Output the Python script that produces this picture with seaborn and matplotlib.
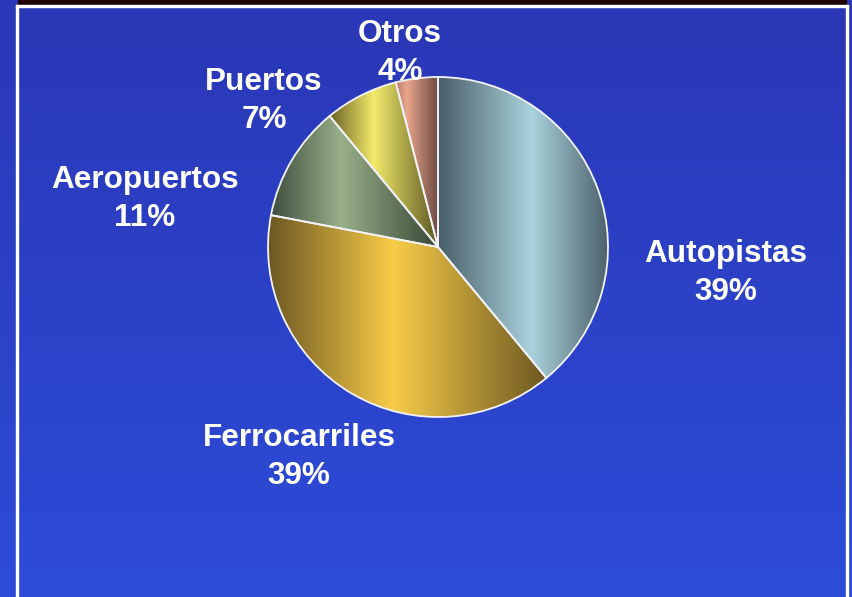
import numpy as np
import matplotlib
matplotlib.use("Agg")
import matplotlib.pyplot as plt
from matplotlib.colors import LinearSegmentedColormap
from matplotlib.patches import Rectangle
import seaborn as sns

# data
sectors = ["Autopistas", "Ferrocarriles", "Aeropuertos", "Puertos", "Otros"]
shares = [39, 39, 11, 7, 4]
pct_labels = ["39%", "39%", "11%", "7%", "4%"]

# shading per slice: left dark, highlight, right dark, highlight position
shades = {
    "Autopistas": ("#485e68", "#aad2de", "#4c626c", 0.55),
    "Ferrocarriles": ("#6c5822", "#f8cb48", "#6c5822", 0.45),
    "Aeropuertos": ("#3e4e3e", "#9ab08a", "#384836", 0.42),
    "Puertos": ("#6c6224", "#f2ea6a", "#5c5624", 0.40),
    "Otros": ("#b87a6a", "#eaa68e", "#6a4840", 0.25),
}

sns.set_theme(style="white")
plt.rcParams["font.family"] = ["Liberation Sans", "DejaVu Sans"]

W, H = 852, 597
fig = plt.figure(figsize=(W / 100, H / 100), dpi=100)
ax = fig.add_axes([0, 0, 1, 1])
ax.set_xlim(0, W)
ax.set_ylim(0, H)
ax.axis("off")

# background gradient (darker at top)
bg = LinearSegmentedColormap.from_list("bg", ["#2a37b6", "#2d4cd8"])
grad = np.linspace(0, 1, 256).reshape(-1, 1)
ax.imshow(grad, cmap=bg, extent=[0, W, 0, H], origin="upper", aspect="auto", zorder=0)

# frame: black bar on top, white lines
ax.add_patch(Rectangle((18, H - 5), 828, 5, color="#1e0404", zorder=1))
ax.add_patch(Rectangle((16, H - 7), 832, 2, color="white", zorder=1))
ax.add_patch(Rectangle((16, 0), 2, H - 5, color="white", zorder=1))
ax.add_patch(Rectangle((846, 0), 2, H - 5, color="white", zorder=1))

center = (438, H - 247)
radius = 170
wedges, _ = ax.pie(shares, startangle=90, counterclock=False,
                   center=center, radius=radius,
                   colors=[shades[s][1] for s in sectors],
                   wedgeprops=dict(edgecolor="#f2f2f6", linewidth=1.3))
ax.set_xlim(0, W)
ax.set_ylim(0, H)

# horizontal cylinder-like shading clipped to each wedge
for w, name in zip(wedges, sectors):
    left, light, right, pk = shades[name]
    cmap = LinearSegmentedColormap.from_list(name, [(0, left), (pk, light), (1, right)])
    bb = w.get_path().get_extents()
    img = ax.imshow(np.linspace(0, 1, 256).reshape(1, -1), cmap=cmap,
                    extent=[bb.x0, bb.x1, bb.y0, bb.y1], aspect="auto", zorder=2)
    img.set_clip_path(w)
    w.set_facecolor("none")
    w.set_zorder(3)

# labels
label_pos = {
    "Autopistas": (726, 273),
    "Ferrocarriles": (299, 457),
    "Aeropuertos": (145, 199),
    "Puertos": (264, 101),
    "Otros": (400, 53),
}
for name, pct in zip(sectors, pct_labels):
    x, y = label_pos[name]
    ax.text(x, H - y, f"{name}\n{pct}", ha="center", va="center",
            multialignment="center", color="white", fontsize=22.7,
            fontweight="bold", linespacing=1.32, zorder=4)

fig.savefig("out.png", dpi=100)
